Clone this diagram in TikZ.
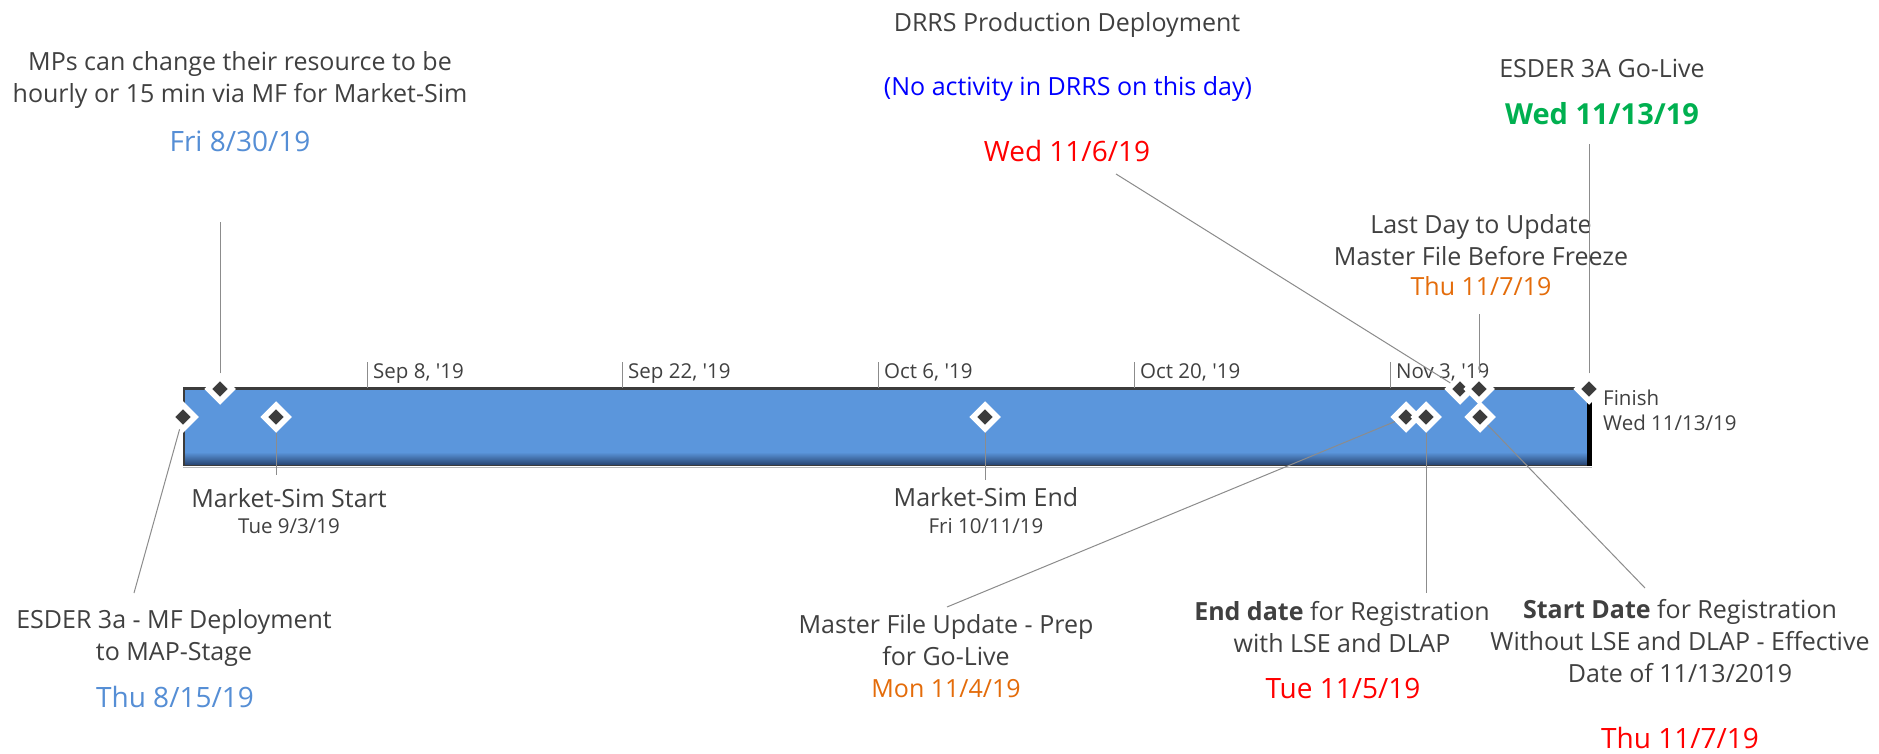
\documentclass[tikz,border=0pt]{standalone}
\usepackage{fontspec}
\setmainfont{Open Sans}[Ligatures=TeXOff]
\usepackage{xcolor}
\usetikzlibrary{shapes.geometric,positioning}
\definecolor{txtgray}{HTML}{404040}
\definecolor{lnkgray}{HTML}{8C8C8C}
\definecolor{msblue}{HTML}{558ED5}
\definecolor{msorange}{HTML}{E46C0A}
\definecolor{msgreen}{HTML}{00B050}
\definecolor{barmid}{HTML}{5B96DC}
\definecolor{barlight}{HTML}{9CCBF8}
\definecolor{bardark}{HTML}{2B4A78}
\definecolor{baredge}{HTML}{3C3C3C}

\begin{document}
\begin{tikzpicture}[x=1pt, y=-1pt,
    lbl/.style={text=txtgray, align=center, anchor=base, inner sep=0pt, font=\fontsize{25}{32}\selectfont},
    small/.style={text=txtgray, align=left, anchor=base west, inner sep=0pt, font=\fontsize{20.5}{25}\selectfont},
    dt/.style={anchor=base, inner sep=0pt, font=\fontsize{28}{32}\selectfont},
    ms/.style={diamond, fill=baredge, draw=white, line width=5.5pt, minimum width=26pt, minimum height=26pt, inner sep=0pt},
    link/.style={draw=lnkgray, line width=1pt}]
    \fill[white] (0,0) rectangle (1879,754);
    \useasboundingbox (0,0) rectangle (1879,754);

    % the bar
    \fill[baredge] (183,387) rectangle (1592,466);
    \shade[top color=barmid, middle color=barlight, bottom color=barmid] (185,390) rectangle (1588,406);
    \fill[barmid] (185,405) rectangle (1588,452);
    \shade[top color=barmid, bottom color=bardark] (185,452) rectangle (1588,464);
    \fill[black] (1587,390) rectangle (1592,466);
    \draw[lnkgray!60] (183,467) -- (1592,467);

    % time scale
    \foreach \x/\t in {367/{Sep 8, '19}, 622/{Sep 22, '19}, 878/{Oct 6, '19}, 1134/{Oct 20, '19}, 1390/{Nov 3, '19}} {
        \draw[lnkgray] (\x,362) -- (\x,388);
        \node[small] at (\x+6,378) {\t};
    }
    \node[small] (fin) at (1603,430) {Finish\\Wed 11/13/19};

    % milestones
    \node[ms] (m815) at (183,417) {};
    \node[ms] (m830) at (220,389) {};
    \node[ms] (m903) at (276,417) {};
    \node[ms] (m1011) at (985,417) {};
    \node[ms] (m1104) at (1406,417) {};
    \node[ms] (m1105) at (1426,417) {};
    \node[ms] (m1106) at (1460,389) {};
    \node[ms] (m1107) at (1479,389) {};
    \node[ms] (m1107s) at (1480,417) {};
    \node[ms] (m1113) at (1589,389) {};

    % labels above (base = last line)
    \node[lbl] (l830) at (240,103) {MPs can change their resource to be\\hourly or 15 min via MF for Market-Sim};
    \node[dt, text=msblue] (d830) at (240,152) {Fri 8/30/19};
    \node[lbl] (l1106) at (1067,32) {DRRS Production Deployment};
    \node[lbl, text=blue] (n1106) at (1068,96) {(No activity in DRRS on this day)};
    \node[dt, text=red] (d1106) at (1067,162) {Wed 11/6/19};
    \node[lbl] (l1113) at (1602,78) {ESDER 3A Go-Live};
    \node[dt, text=msgreen, font=\fontsize{29}{32}\selectfont\bfseries] (d1113) at (1602,125) {Wed 11/13/19};
    \node[lbl] (l1107) at (1481,265) {Last Day to Update\\Master File Before Freeze};
    \node[lbl, text=msorange] (d1107) at (1481,295) {Thu 11/7/19};

    % labels below
    \node[lbl] (l903) at (289,507) {Market-Sim Start};
    \node[small, anchor=base] (d903) at (289,533) {Tue 9/3/19};
    \node[lbl] (l815) at (174,660) {ESDER 3a - MF Deployment\\to MAP-Stage};
    \node[dt, text=msblue] (d815) at (175,707) {Thu 8/15/19};
    \node[lbl] (l1011) at (986,506) {Market-Sim End};
    \node[small, anchor=base] (d1011) at (986,533) {Fri 10/11/19};
    \node[lbl] (l1104) at (946,665) {Master File Update - Prep\\for Go-Live};
    \node[lbl, text=msorange] (d1104) at (946,697) {Mon 11/4/19};
    \node[lbl] (l1105) at (1342,652) {\textbf{End date} for Registration\\with LSE and DLAP};
    \node[dt, text=red] (d1105) at (1343,698) {Tue 11/5/19};
    \node[lbl] (l1107s) at (1680,682) {\textbf{Start Date} for Registration\\Without LSE and DLAP - Effective\\Date of 11/13/2019};
    \node[dt, text=red] (d1107s) at (1680,748) {Thu 11/7/19};

    % leader lines
    \coordinate (e830) at (220,222);
    \coordinate (e1106) at (1116,174);
    \coordinate (e1113) at (1589,144);
    \coordinate (e1107) at (1479,314);
    \coordinate (e815) at (134,593);
    \coordinate (e903) at (276,475);
    \coordinate (e1011) at (985,480);
    \coordinate (e1104) at (947,607);
    \coordinate (e1105) at (1426,593);
    \coordinate (e1107s) at (1645,588);
    \foreach \m in {830,1106,1113,1107,815,903,1011,1104,1105,1107s}
        \draw[link] (m\m) -- (e\m);
\end{tikzpicture}
\end{document}
